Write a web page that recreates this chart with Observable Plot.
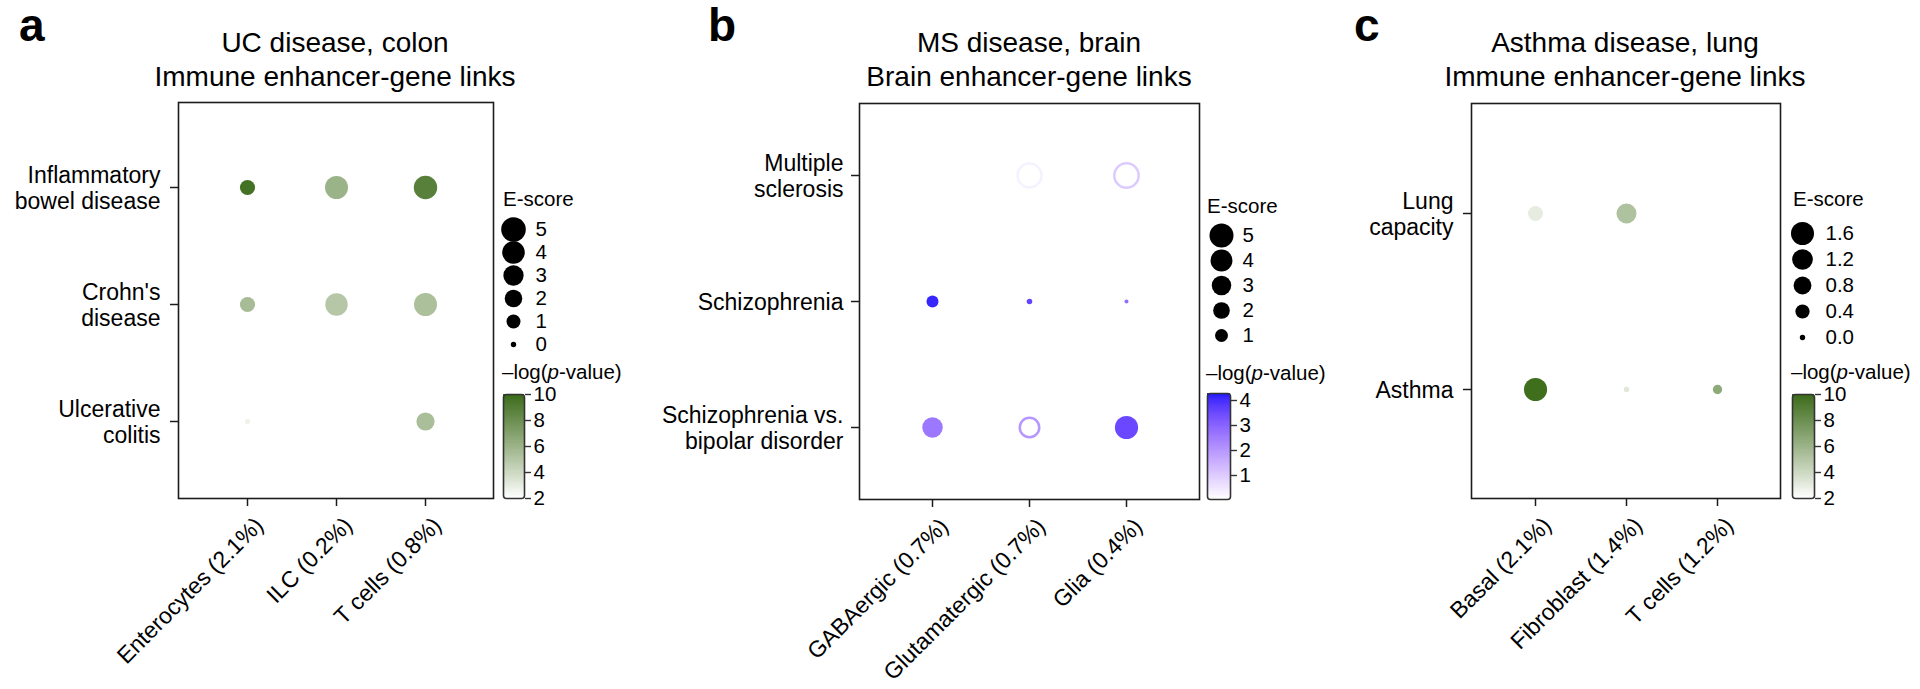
<!DOCTYPE html>
<html><head><meta charset="utf-8">
<script src="https://cdn.jsdelivr.net/npm/d3@7"></script>
<script src="https://cdn.jsdelivr.net/npm/@observablehq/plot@0.6"></script>
<style>
body{margin:0;background:#fff;font-family:"Liberation Sans",Arial,Helvetica,sans-serif;color:#000;}
#root{position:relative;width:1920px;height:689px;overflow:hidden;background:#fff;}
.abs{position:absolute;white-space:nowrap;line-height:1;}
.letter{font-weight:bold;font-size:46px;}
.title{font-size:28px;transform:translateX(-50%);}
.ltitle{font-size:20.5px;}
</style></head>
<body><div id="root"></div>
<script>
// ---------- Panel a data ----------
const aCells = ["Enterocytes (2.1%)", "ILC (0.2%)", "T cells (0.8%)"];
const aTraits = ["Inflammatory\nbowel disease", "Crohn's\ndisease", "Ulcerative\ncolitis"];
const aEscore = [[1.3, 4.2, 4.4], [1.3, 3.9, 4.2], [0.0, null, 2.2]];
const aLogP = [[9.6, 6.0, 8.8], [5.5, 4.9, 5.3], [2.6, null, 5.4]];
const aSizeTicks = [5, 4, 3, 2, 1, 0];
const aColorTicks = [2, 4, 6, 8, 10];

// ---------- Panel b data ----------
const bCells = ["GABAergic (0.7%)", "Glutamatergic (0.7%)", "Glia (0.4%)"];
const bTraits = ["Multiple\nsclerosis", "Schizophrenia", "Schizophrenia vs.\nbipolar disorder"];
const bEscore = [[null, 5.0, 5.2], [0.8, 0.03, 0.0], [3.4, 3.0, 4.6]];
const bLogP = [[null, 0.3, 1.0], [4.1, 3.6, 2.8], [2.6, 2.0, 3.5]];
const bHollow = [[false, true, true], [false, false, false], [false, true, false]];
const bSizeTicks = [5, 4, 3, 2, 1];
const bColorTicks = [1, 2, 3, 4];

// ---------- Panel c data ----------
const cCells = ["Basal (2.1%)", "Fibroblast (1.4%)", "T cells (1.2%)"];
const cTraits = ["Lung\ncapacity", "Asthma"];
const cEscore = [[0.47, 1.1, null], [1.63, 0.0, 0.08]];
const cLogP = [[3.0, 5.2, null], [9.8, 3.2, 6.5]];
const cSizeTicks = [1.6, 1.2, 0.8, 0.4, 0.0];
const cColorTicks = [2, 4, 6, 8, 10];

const FONT = '"Liberation Sans", Arial, Helvetica, sans-serif';
const INK = "#1c1c1c";
const root = document.getElementById("root");

function rowsOf(traits, cells, E, P, H) {
  const out = [];
  traits.forEach((t, i) => cells.forEach((c, j) => {
    if (E[i][j] != null) out.push({trait: t, cell: c, e: E[i][j], p: P[i][j], hollow: H ? H[i][j] : false});
  }));
  return out;
}
function place(el, left, top) {
  el.style.position = "absolute";
  el.style.left = left + "px";
  el.style.top = top + "px";
  root.appendChild(el);
}
function html(cls, text, left, top) {
  const d = document.createElement("div");
  d.className = "abs " + cls;
  d.innerHTML = text;
  d.style.left = left + "px";
  d.style.top = top + "px";
  root.appendChild(d);
}

function mainPanel(cfg) {
  const ML = 270, MT = 6, MR = 6, MB = 190;
  const w = cfg.box.r - cfg.box.l, h = cfg.box.b - cfg.box.t;
  const rows = cfg.rows;
  const chart = Plot.plot({
    width: ML + w + MR, height: MT + h + MB,
    marginLeft: ML, marginTop: MT, marginRight: MR, marginBottom: MB,
    style: {background: "transparent", fontFamily: FONT, color: "#000", overflow: "visible"},
    x: {type: "point", domain: cfg.cells, padding: cfg.xp, label: null},
    y: {type: "point", domain: cfg.traits, padding: cfg.yp, align: cfg.ya, label: null},
    r: cfg.r,
    color: cfg.color,
    marks: [
      Plot.frame({stroke: INK, strokeWidth: 1.6}),
      // tick marks
      Plot.axisX({tickSize: 8, tickFormat: () => "", stroke: INK, strokeWidth: 1.5, label: null}),
      // rotated tick labels
      Plot.axisX({tickRotate: -45, fontSize: 23, tickSize: 0, tickPadding: 23, dx: 12, fill: "#000", label: null}),
      Plot.axisY({fontSize: 23, tickSize: 8, tickPadding: cfg.ytp, lineHeight: 1.13, stroke: INK, strokeWidth: 1.5, fill: "#000", label: null}),
      Plot.dot(rows.filter(d => !d.hollow), {x: "cell", y: "trait", r: "e", fill: "p"}),
      Plot.dot(rows.filter(d => d.hollow), {x: "cell", y: "trait", r: "e", stroke: "p", fill: "white", strokeWidth: 2.5})
    ]
  });
  place(chart, cfg.box.l - ML, cfg.box.t - MT);
}

function sizeLegend(cfg) {
  const pad = 16;
  const chart = Plot.plot({
    width: 120, height: (cfg.lastY - cfg.firstY) + 2 * pad,
    marginLeft: 0, marginRight: 0, marginTop: pad, marginBottom: pad,
    style: {background: "transparent", fontFamily: FONT, color: "#000", overflow: "visible"},
    y: {type: "point", domain: cfg.ticks, padding: 0, axis: null},
    r: cfg.r,
    marks: [
      Plot.dot(cfg.ticks, {y: d => d, r: d => d, fill: "#000", frameAnchor: "left", dx: cfg.cx - cfg.left}),
      Plot.text(cfg.ticks, {y: d => d, text: cfg.fmt, frameAnchor: "left", textAnchor: "start", dx: cfg.tx - cfg.left, fontSize: 20.5, fill: "#000"})
    ]
  });
  place(chart, cfg.left, cfg.firstY - pad);
}

function colorBar(cfg) {
  const MT = 8, MB = 8, ML = 1, MR = 50, BW = cfg.right - cfg.left;
  const [d0, d1] = cfg.domain;
  const n = 120;
  const ramp = d3.range(n).map(i => [d0 + (d1 - d0) * i / n, d0 + (d1 - d0) * (i + 1.02) / n]);
  const chart = Plot.plot({
    width: ML + BW + MR, height: MT + (cfg.bottom - cfg.top) + MB,
    marginLeft: ML, marginRight: MR, marginTop: MT, marginBottom: MB,
    style: {background: "transparent", fontFamily: FONT, color: "#000", overflow: "visible"},
    y: {domain: cfg.domain, axis: null},
    color: cfg.color,
    marks: [
      Plot.rect(ramp, {y1: d => d[0], y2: d => Math.min(d[1], d1), fill: d => (d[0] + d[1]) / 2, shapeRendering: "crispEdges"}),
      Plot.frame({stroke: "#333", strokeWidth: 1.6, rx: 3}),
      Plot.axisY({ticks: cfg.ticks, anchor: "right", tickSize: 6, tickPadding: 3, fontSize: 20.5, stroke: "#333", strokeWidth: 1.4, fill: "#000", tickFormat: d => String(d), label: null})
    ]
  });
  place(chart, cfg.left - ML, cfg.top - MT);
}

// ---------- Scales ----------
const greenColor = {type: "linear", domain: [2, 10], range: ["#ffffff", "#3a6b17"], interpolate: "lab", clamp: true};
const blueColor = {type: "linear", domain: [0.04, 4.28], range: ["#ffffff", "#1a1aff"], interpolate: "lab", clamp: true};
const aR = {type: "pow", exponent: 0.5, domain: [0, 5], range: [2.7, 12.3]};
const bR = {type: "pow", exponent: 0.5, domain: [0, 5], range: [2, 12]};
const cR = {type: "pow", exponent: 0.5, domain: [0, 1.9], range: [2.7, 12.3]};

// ---------- Panel a ----------
html("letter", "a", 19, 2);
html("title", "UC disease, colon", 335, 29);
html("title", "Immune enhancer-gene links", 335, 63);
mainPanel({cells: aCells, traits: aTraits, rows: rowsOf(aTraits, aCells, aEscore, aLogP),
  box: {l: 178, t: 102, r: 493, b: 498}, xp: 0.76, yp: 0.692, ya: 0.525, ytp: 10, r: aR, color: greenColor});
html("ltitle", "E-score", 503, 189);
sizeLegend({ticks: aSizeTicks, r: aR, fmt: d => String(d), left: 500, firstY: 227, lastY: 346, cx: 513, tx: 535});
html("ltitle", "\u2013log(<i>p</i>-value)", 502, 362);
colorBar({domain: [2, 10], ticks: aColorTicks, color: greenColor, left: 503, right: 524, top: 394, bottom: 498});

// ---------- Panel b ----------
html("letter", "b", 708, 2);
html("title", "MS disease, brain", 1029, 29);
html("title", "Brain enhancer-gene links", 1029, 63);
mainPanel({cells: bCells, traits: bTraits, rows: rowsOf(bTraits, bCells, bEscore, bLogP, bHollow),
  box: {l: 859, t: 103, r: 1199, b: 499}, xp: 0.735, yp: 0.565, ya: 0.503, ytp: 8, r: bR, color: blueColor});
html("ltitle", "E-score", 1207, 196);
sizeLegend({ticks: bSizeTicks, r: bR, fmt: d => String(d), left: 1204, firstY: 233, lastY: 336, cx: 1221, tx: 1242});
html("ltitle", "\u2013log(<i>p</i>-value)", 1206, 363);
colorBar({domain: [0.04, 4.28], ticks: bColorTicks, color: blueColor, left: 1207, right: 1230, top: 393, bottom: 499});

// ---------- Panel c ----------
html("letter", "c", 1354, 2);
html("title", "Asthma disease, lung", 1625, 29);
html("title", "Immune enhancer-gene links", 1625, 63);
mainPanel({cells: cCells, traits: cTraits, rows: rowsOf(cTraits, cCells, cEscore, cLogP),
  box: {l: 1471, t: 103, r: 1780, b: 498}, xp: 0.68, yp: 0.616, ya: 0.5, ytp: 10, r: cR, color: greenColor});
html("ltitle", "E-score", 1793, 189);
sizeLegend({ticks: cSizeTicks, r: cR, fmt: d => d.toFixed(1), left: 1788, firstY: 232, lastY: 337, cx: 1802, tx: 1825});
html("ltitle", "\u2013log(<i>p</i>-value)", 1791, 362);
colorBar({domain: [2, 10], ticks: cColorTicks, color: greenColor, left: 1792, right: 1814, top: 394, bottom: 498});
</script>
</body></html>
